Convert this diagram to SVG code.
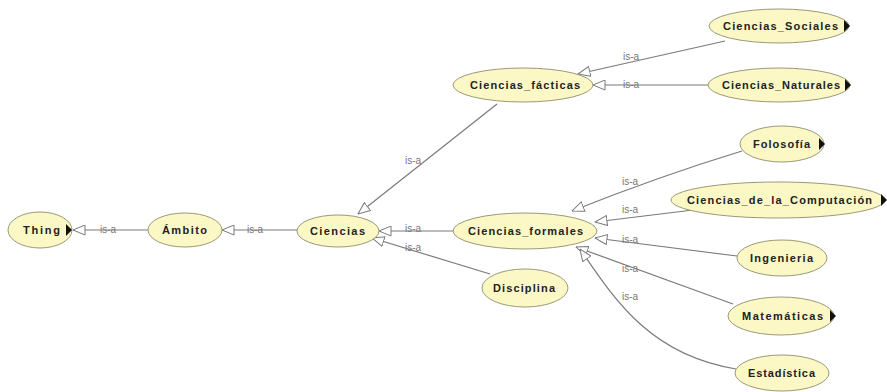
<svg xmlns="http://www.w3.org/2000/svg" width="887" height="392" viewBox="0 0 887 392">
<style>
.n ellipse{fill:#fbf8c6;stroke:#9a9a78;stroke-width:1}
.n text{font-family:"Liberation Sans",Arial,sans-serif;font-weight:bold;font-size:11px;fill:#222}
.n polygon{fill:#111}
.e path{fill:none;stroke:#7a7a7a;stroke-width:1.2}
.e text{font-family:"Liberation Sans",Arial,sans-serif;font-size:10px;fill:#777}
</style>
<defs>
<marker id="tri" viewBox="0 0 13 11" refX="12.5" refY="5.5" markerUnits="userSpaceOnUse" markerWidth="13" markerHeight="11" orient="auto">
<path d="M0.5,0.5 L12.5,5.5 L0.5,10.5 Z" fill="#fff" stroke="#7a7a7a" stroke-width="1"/>
</marker>
</defs>
<rect width="887" height="392" fill="#fff"/>
<g class="e" id="connectors">
<path d="M148,230 L73,230" marker-end="url(#tri)"/>
<path d="M297,230 L222,230" marker-end="url(#tri)"/>
<path d="M453,231 L379,231" marker-end="url(#tri)"/>
<path d="M490,274 L372,238" marker-end="url(#tri)"/>
<path d="M497,104 L358,214" marker-end="url(#tri)"/>
<path d="M725,41 L578,74" marker-end="url(#tri)"/>
<path d="M708,85 L593,85" marker-end="url(#tri)"/>
<path d="M742,151 Q660,176 572,211" marker-end="url(#tri)"/>
<path d="M693,210 L595,222" marker-end="url(#tri)"/>
<path d="M737,256 L595,238" marker-end="url(#tri)"/>
<path d="M733,304 L576,247" marker-end="url(#tri)"/>
<path d="M736,369 C650,355 615,300 580,249" marker-end="url(#tri)"/>
<text x="100" y="233">is-a</text>
<text x="247" y="233">is-a</text>
<text x="405" y="232">is-a</text>
<text x="405" y="251">is-a</text>
<text x="405" y="164">is-a</text>
<text x="623" y="60">is-a</text>
<text x="623" y="88">is-a</text>
<text x="622" y="185">is-a</text>
<text x="622" y="213">is-a</text>
<text x="622" y="243">is-a</text>
<text x="622" y="272">is-a</text>
<text x="622" y="300">is-a</text>
</g>
<g class="n" id="thing"><ellipse cx="40" cy="230" rx="32" ry="18"/><text x="23" y="234" textLength="37" lengthAdjust="spacing">Thing</text><polygon points="66,224 72,230 66,236"/></g>
<g class="n" id="ambito"><ellipse cx="185" cy="230" rx="37" ry="17"/><text x="162" y="234" textLength="45" lengthAdjust="spacing">Ámbito</text></g>
<g class="n" id="ciencias"><ellipse cx="338" cy="231" rx="41" ry="16"/><text x="310" y="235" textLength="55" lengthAdjust="spacing">Ciencias</text></g>
<g class="n" id="ciencias_formales"><ellipse cx="525" cy="231" rx="72" ry="18"/><text x="468" y="235" textLength="115" lengthAdjust="spacing">Ciencias_formales</text></g>
<g class="n" id="disciplina"><ellipse cx="525" cy="288" rx="43" ry="19"/><text x="493" y="292" textLength="62" lengthAdjust="spacing">Disciplina</text></g>
<g class="n" id="ciencias_facticas"><ellipse cx="523" cy="85" rx="70" ry="17"/><text x="470" y="89" textLength="110" lengthAdjust="spacing">Ciencias_fácticas</text></g>
<g class="n" id="ciencias_sociales"><ellipse cx="779" cy="26" rx="70" ry="17"/><text x="723" y="30" textLength="115" lengthAdjust="spacing">Ciencias_Sociales</text><polygon points="844,20 850,26 844,32"/></g>
<g class="n" id="ciencias_naturales"><ellipse cx="779" cy="85" rx="71" ry="17"/><text x="722" y="89" textLength="118" lengthAdjust="spacing">Ciencias_Naturales</text><polygon points="845,79 851,85 845,91"/></g>
<g class="n" id="folosofia"><ellipse cx="782" cy="144" rx="42" ry="18"/><text x="753" y="148" textLength="57" lengthAdjust="spacing">Folosofía</text><polygon points="819,138 825,144 819,150"/></g>
<g class="n" id="ciencias_computacion"><ellipse cx="778" cy="200" rx="107" ry="18"/><text x="687" y="204" textLength="185" lengthAdjust="spacing">Ciencias_de_la_Computación</text><polygon points="881,194 887,200 881,206"/></g>
<g class="n" id="ingenieria"><ellipse cx="782" cy="258" rx="45" ry="18"/><text x="750" y="262" textLength="63" lengthAdjust="spacing">Ingenieria</text></g>
<g class="n" id="matematicas"><ellipse cx="781" cy="316" rx="53" ry="19"/><text x="742" y="320" textLength="81" lengthAdjust="spacing">Matemáticas</text><polygon points="830,310 836,316 830,322"/></g>
<g class="n" id="estadistica"><ellipse cx="782" cy="373" rx="47" ry="18"/><text x="748" y="377" textLength="67" lengthAdjust="spacing">Estadística</text></g>
</svg>
